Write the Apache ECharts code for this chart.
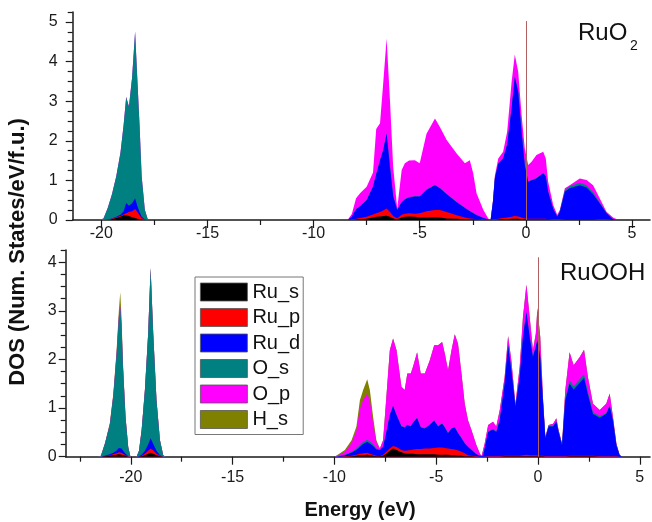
<!DOCTYPE html>
<html>
<head>
<meta charset="utf-8">
<script src="https://cdn.jsdelivr.net/npm/echarts@6/dist/echarts.min.js"></script>
<style>html,body{margin:0;padding:0;background:#fff;}#c{width:652px;height:522px;}</style>
</head>
<body>
<div id="c"></div>
<script>
// ---------- DATA ----------
const seriesNames = ['Ru_s', 'Ru_p', 'Ru_d', 'O_s', 'O_p', 'H_s'];
const xMajorTicks = [-20, -15, -10, -5, 0, 5];
const yTopTicks = [0, 1, 2, 3, 4, 5];
const yBotTicks = [0, 1, 2, 3, 4];

// RuO2 panel (partial DOS, each component on its own)
const topEnergy = [-20.1,-19.9,-19.7,-19.5,-19.3,-19.1,-18.95,-18.83,-18.7,-18.55,-18.41,-18.3,-18.2,-18.1,-17.95,-17.8,
  -8.4,-8.2,-8.0,-7.8,-7.5,-7.2,-7.05,-6.87,-6.72,-6.56,-6.4,-6.25,-6.06,-5.85,-5.7,-5.5,-5.23,-5.0,-4.68,-4.28,-4.05,-3.73,-3.26,-2.87,-2.64,-2.48,-2.32,-2.0,-1.77,-1.66,
  -1.55,-1.46,-1.3,-1.07,-0.88,-0.67,-0.52,-0.36,-0.2,-0.05,0.11,0.27,0.5,0.82,0.94,1.05,1.29,1.48,1.6,1.84,2.07,2.54,2.86,3.17,3.48,3.8,4.11,4.35];
const topRuS = [0,0,0,0.02,0.05,0.08,0.12,0.12,0.1,0.07,0.05,0.03,0.02,0.01,0,0,
  0,0,0.01,0.02,0.03,0.06,0.08,0.09,0.1,0.11,0.08,0.04,0.02,0.06,0.08,0.09,0.08,0.06,0.06,0.07,0.06,0.04,0.03,0.02,0.01,0.01,0.01,0,0,0,
  0,0.01,0.01,0.02,0.02,0.03,0.03,0.03,0.02,0.02,0.01,0.01,0.01,0.01,0.01,0.01,0,0,0,0.01,0.01,0.01,0.01,0.01,0,0,0,0];
const topRuP = [0,0,0.01,0.01,0.02,0.02,0.02,0.05,0.1,0.15,0.23,0.17,0.1,0.04,0.01,0,
  0,0.01,0.02,0.03,0.05,0.08,0.09,0.11,0.14,0.18,0.12,0.06,0.02,0.07,0.08,0.08,0.08,0.11,0.16,0.18,0.19,0.16,0.09,0.04,0.03,0.02,0.01,0.01,0,0,
  0.01,0.01,0.02,0.03,0.04,0.05,0.07,0.06,0.04,0.02,0.02,0.02,0.02,0.02,0.02,0.01,0.01,0.01,0.01,0.01,0.01,0.01,0.01,0.01,0.01,0.01,0,0];
const topRuD = [0,0,0,0.01,0.01,0.03,0.08,0.26,0.16,0.2,0.27,0.15,0.08,0.03,0,0,
  0,0.07,0.24,0.3,0.42,0.7,0.98,1.3,1.52,1.89,1.14,0.5,0.21,0.32,0.36,0.4,0.43,0.42,0.54,0.63,0.55,0.45,0.33,0.24,0.18,0.14,0.1,0.04,0.01,0,
  0.45,1.03,1.39,1.5,1.84,2.74,3.51,3.15,2.17,1.35,0.94,0.97,1.02,1.15,1.07,0.69,0.27,0.07,0.19,0.69,0.78,0.86,0.8,0.63,0.41,0.16,0.02,0];
const topOS = [0,0.04,0.29,0.61,1.02,1.57,2.18,2.67,2.5,3.18,4.2,3.15,2.2,1.02,0.24,0,
  0,0,0.01,0.01,0.01,0.01,0.01,0.01,0.01,0.01,0.01,0.01,0.01,0.01,0.01,0.01,0.01,0.01,0.01,0.01,0.01,0.01,0.01,0.01,0.01,0.01,0.01,0,0,0,
  0,0.01,0.01,0.01,0.01,0.01,0.01,0.01,0.01,0.01,0.01,0.01,0.01,0.01,0.01,0.01,0.01,0.01,0.02,0.05,0.05,0.06,0.06,0.05,0.03,0.01,0,0];
const topOP = [0,0,0,0,0,0,0.01,0.01,0.01,0.01,0.01,0,0,0,0,0,
  0,0.07,0.27,0.32,0.33,0.35,1.14,0.93,1.68,2.39,1.65,0.73,0.03,0.8,0.9,0.92,0.91,0.83,1.41,1.67,1.54,1.36,1.22,1.12,1.28,1.0,0.54,0.2,0.03,0,
  0.02,0.06,0.12,0.16,0.32,0.66,0.56,0.49,0.41,0.41,0.41,0.46,0.58,0.53,0.44,0.25,0.09,0.04,0.03,0.04,0.03,0.11,0.13,0.18,0.1,0.03,0.04,0];

// RuOOH panel
const botEnergy = [-21.6,-21.47,-21.27,-21.03,-20.86,-20.7,-20.59,-20.52,-20.46,-20.38,-20.26,-20.13,-20.02,
  -19.72,-19.6,-19.47,-19.31,-19.15,-19.03,-18.9,-18.74,-18.57,-18.41,-18.3,
  -10.0,-9.8,-9.49,-9.16,-8.92,-8.75,-8.59,-8.39,-8.26,-8.1,-7.94,-7.77,-7.61,-7.45,-7.28,-7.12,-6.95,-6.71,-6.55,-6.42,-6.25,-6.14,-5.94,-5.76,-5.56,-5.32,-5.1,-4.91,-4.71,-4.58,-4.42,-4.25,-4.09,-3.93,-3.76,-3.6,-3.44,-3.27,-3.03,-2.86,-2.78,
  -2.7,-2.62,-2.45,-2.21,-2.05,-1.88,-1.64,-1.47,-1.31,-1.11,-0.9,-0.74,-0.57,-0.41,-0.25,-0.11,-0.03,0.11,0.25,0.36,0.52,0.74,0.9,1.01,1.18,1.34,1.55,1.75,2.05,2.26,2.45,2.7,3.03,3.35,3.52,3.68,3.85,4.01,4.15];
const botRuS = [0,0,0.01,0.02,0.03,0.04,0.05,0.05,0.04,0.03,0.02,0,0,
  0,0,0.01,0.03,0.06,0.08,0.06,0.03,0.01,0,0,
  0,0,0,0.01,0.02,0.03,0.03,0.04,0.03,0.02,0.01,0.01,0.02,0.06,0.12,0.17,0.14,0.09,0.07,0.06,0.06,0.06,0.05,0.05,0.05,0.05,0.05,0.04,0.04,0.04,0.04,0.03,0.03,0.02,0.02,0.01,0.01,0.01,0,0,0,
  0,0,0,0,0,0,0.01,0.01,0.01,0.01,0.01,0.01,0.01,0.01,0.01,0.01,0.01,0.01,0.01,0,0,0,0,0,0,0,0.01,0.01,0.01,0.01,0.01,0.01,0,0,0,0,0,0,0];
const botRuP = [0,0,0,0.01,0.02,0.03,0.04,0.05,0.04,0.03,0.01,0.01,0,
  0,0,0.01,0.03,0.06,0.09,0.07,0.03,0.01,0,0,
  0,0,0.01,0.01,0.02,0.03,0.04,0.04,0.03,0.02,0.01,0,0.02,0.04,0.05,0.05,0.06,0.05,0.05,0.07,0.08,0.09,0.11,0.11,0.12,0.12,0.13,0.15,0.15,0.14,0.13,0.13,0.12,0.11,0.08,0.06,0.02,0.01,0.01,0,0,
  0,0.01,0.01,0.01,0.01,0.01,0.01,0.01,0.01,0.01,0.01,0.02,0.03,0.02,0.02,0.02,0.02,0.01,0.01,0.01,0.01,0.01,0.01,0.01,0.01,0.01,0.01,0.01,0.01,0.01,0.01,0.01,0.01,0.01,0.01,0.01,0.01,0,0];
const botRuD = [0,0,0.01,0.02,0.03,0.06,0.09,0.1,0.09,0.06,0.03,0,0,
  0,0.01,0.02,0.06,0.13,0.21,0.13,0.06,0.01,0,0,
  0,0.01,0.02,0.06,0.1,0.14,0.19,0.22,0.21,0.18,0.13,0.13,0.16,0.4,0.68,0.82,0.65,0.48,0.48,0.52,0.48,0.55,0.63,0.44,0.41,0.48,0.56,0.43,0.49,0.42,0.31,0.42,0.45,0.35,0.28,0.2,0.17,0.12,0.04,0.02,0,
  0.02,0.16,0.5,0.55,0.5,0.74,1.48,2.27,1.76,1.01,1.62,2.43,2.93,2.43,2.02,2.23,2.36,2.03,1.07,0.37,0.61,0.61,0.71,0.5,0.23,1.15,1.48,1.36,1.5,1.6,1.26,0.86,0.79,0.87,1.03,0.73,0.22,0.03,0];
const botOS = [0,0.02,0.25,0.61,1.18,1.97,2.67,2.85,2.53,1.68,0.74,0.19,0,
  0,0.11,0.51,1.25,2.28,3.5,2.27,1.04,0.31,0.03,0,
  0,0,0.01,0.02,0.03,0.04,0.04,0.05,0.04,0.03,0.02,0.01,0.01,0.01,0.01,0.01,0.01,0.01,0.01,0.01,0.01,0.01,0.01,0.01,0.01,0.01,0.01,0.01,0.01,0.01,0.01,0.01,0.01,0.01,0.01,0.01,0.01,0.01,0,0,0,
  0,0.01,0.01,0.01,0.01,0.01,0.01,0.01,0.01,0.01,0.01,0.01,0.01,0.01,0.01,0.01,0.01,0.01,0.01,0.01,0.01,0.01,0.01,0.01,0.01,0.04,0.07,0.07,0.07,0.07,0.06,0.04,0.03,0.02,0.02,0.02,0.01,0,0];
const botOP = [0,0,0,0.01,0.01,0.03,0.05,0.05,0.05,0.02,0.01,0,0,
  0,0,0,0,0,0,0,0,0,0,0,
  0,0.02,0.06,0.18,0.37,0.74,0.87,0.95,0.84,0.43,0.13,0.02,0.13,0.72,1.33,1.38,1.33,0.81,0.76,1.05,1.08,1.14,1.35,1.1,1.12,1.32,1.54,1.66,1.67,1.51,1.29,1.6,1.91,1.83,1.32,0.81,0.54,0.4,0.19,0.05,0,
  0.01,0.09,0.13,0.15,0.1,0.2,0.13,0.18,0.19,0.05,0.2,0.4,0.56,0.4,0.13,0.26,0.66,0.4,0.06,0.02,0.02,0.05,0.06,0.03,0.02,0.17,0.58,0.43,0.46,0.51,0.3,0.17,0.13,0.19,0.24,0.06,0.03,0,0];
const botHS = [0,0,0.01,0.03,0.03,0.06,0.1,0.28,0.12,0.03,0.01,0,0,
  0,0,0,0,0,0,0,0,0,0,0,
  0,0.02,0.04,0.06,0.08,0.18,0.2,0.29,0.22,0.14,0.04,0,0,0,0,0,0,0,0,0,0,0,0,0,0,0,0,0,0,0,0,0,0,0,0,0,0,0,0,0,0,
  0,0,0,0,0,0,0,0,0,0,0,0,0,0,0,0,0,0,0,0,0,0,0,0,0,0,0,0,0,0,0,0,0,0,0,0,0,0,0];

const colors = {Ru_s:'#000000', Ru_p:'#ff0000', Ru_d:'#0000ff', O_s:'#008080', O_p:'#ff00ff', H_s:'#808000'};

// ---------- CHART ----------
const FONT = 'Liberation Sans, Arial, sans-serif';
const chart = echarts.init(document.getElementById('c'), null, {renderer: 'canvas'});

// stacked (cumulative) curves: each component is drawn as the filled area of the running sum,
// upper components first so lower ones paint over them
function stackedSeries(names, comps, energy, axisIdx, fermiTop) {
  const cum = [];
  let run = energy.map(() => 0);
  comps.forEach(c => { run = run.map((v, i) => +(v + c[i]).toFixed(4)); cum.push(run); });
  const out = [];
  for (let k = names.length - 1; k >= 0; k--) {
    const s = {
      name: names[k], type: 'line', xAxisIndex: axisIdx, yAxisIndex: axisIdx,
      data: energy.map((e, i) => [e, cum[k][i]]),
      showSymbol: false, symbol: 'none', smooth: false,
      lineStyle: {width: 1, opacity: 0, color: colors[names[k]]},
      itemStyle: {color: colors[names[k]]},
      areaStyle: {color: colors[names[k]], opacity: 1, origin: 'start'},
      emphasis: {disabled: true}, silent: true, z: 2
    };
    if (k === 0) {
      s.markLine = {silent: true, symbol: ['none', 'none'], label: {show: false}, z: 10,
        lineStyle: {color: '#b06060', width: 1, type: 'solid', opacity: 1},
        data: [[{coord: [0, 0]}, {coord: [0, fermiTop]}]]};
    }
    out.push(s);
  }
  return out;
}

const minorX1 = [-17.5, -12.5, -7.5, -2.5, 2.5];
const minorX2 = [-22.5, -17.5, -12.5, -7.5, -2.5, 2.5];
function quarterTicks(maxV) { const r = []; for (let v = 0.25; v <= maxV + 1e-9; v += 0.25) { if (Math.abs(v - Math.round(v)) > 1e-6) r.push(+v.toFixed(2)); } return r; }

const axisLineStyle = {color: '#1a1a1a', width: 1.5};
const labelStyle = {color: '#1a1a1a', fontSize: 16, fontFamily: FONT};
const tickLine = {color: '#1a1a1a', width: 1.2};

function xMain(grid, min, max, margin) {
  return {type: 'value', gridIndex: grid, position: 'bottom', min, max, splitLine: {show: false},
    axisLine: {show: true, onZero: false, lineStyle: axisLineStyle},
    axisTick: {show: true, inside: false, length: 8, customValues: xMajorTicks, lineStyle: tickLine},
    axisLabel: {show: true, customValues: xMajorTicks, margin, ...labelStyle}};
}
function xMinor(grid, min, max, vals) {
  return {type: 'value', gridIndex: grid, position: 'bottom', min, max, splitLine: {show: false},
    axisLine: {show: false, onZero: false},
    axisTick: {show: true, inside: false, length: 5, customValues: vals, lineStyle: tickLine},
    axisLabel: {show: false}};
}
function yMain(grid, max, ticks, margin) {
  return {type: 'value', gridIndex: grid, position: 'left', min: 0, max, splitLine: {show: false},
    axisLine: {show: true, onZero: false, lineStyle: axisLineStyle},
    axisTick: {show: true, inside: false, length: 7, customValues: ticks, lineStyle: tickLine},
    axisLabel: {show: true, customValues: ticks, margin, ...labelStyle}};
}
function yMinor(grid, max) {
  return {type: 'value', gridIndex: grid, position: 'left', min: 0, max, splitLine: {show: false},
    axisLine: {show: false, onZero: false},
    axisTick: {show: true, inside: false, length: 5, customValues: quarterTicks(max), lineStyle: tickLine},
    axisLabel: {show: false}};
}

const series = [].concat(
  stackedSeries(['Ru_s', 'Ru_p', 'Ru_d', 'O_s', 'O_p'], [topRuS, topRuP, topRuD, topOS, topOP], topEnergy, 0, 5.02),
  stackedSeries(['Ru_s', 'Ru_p', 'Ru_d', 'O_s', 'O_p', 'H_s'], [botRuS, botRuP, botRuD, botOS, botOP, botHS], botEnergy, 2, 4.1)
);

chart.setOption({
  animation: false,
  backgroundColor: '#ffffff',
  grid: [
    {left: 72.7, top: 12, width: 577.3, height: 208, containLabel: false},
    {left: 65.7, top: 250, width: 584.3, height: 206.7, containLabel: false}
  ],
  xAxis: [
    xMain(0, -21.35, 5.85, 6),
    xMinor(0, -21.35, 5.85, minorX1),
    xMain(1, -23.2, 5.5, 13),
    xMinor(1, -23.2, 5.5, minorX2)
  ],
  yAxis: [
    yMain(0, 5.25, yTopTicks, 15),
    yMinor(0, 5.25),
    yMain(1, 4.25, yBotTicks, 9),
    yMinor(1, 4.25)
  ],
  legend: {
    data: seriesNames, orient: 'vertical', left: 195, top: 277,
    icon: 'rect', itemWidth: 47, itemHeight: 18, itemGap: 5.5,
    padding: [5, 3, 5, 5], backgroundColor: '#ffffff', borderColor: '#777777', borderWidth: 1,
    itemStyle: {borderColor: '#555555', borderWidth: 0.8},
    textStyle: {color: '#111111', fontSize: 20, fontFamily: FONT},
    selectedMode: false
  },
  graphic: [
    {type: 'text', left: 578, top: 21, style: {text: 'RuO', fontSize: 24, fontFamily: FONT, fill: '#111'}},
    {type: 'text', left: 630, top: 39, style: {text: '2', fontSize: 14, fontFamily: FONT, fill: '#111'}},
    {type: 'text', left: 560, top: 261, style: {text: 'RuOOH', fontSize: 24, fontFamily: FONT, fill: '#111'}},
    {type: 'text', x: 18, y: 252, rotation: Math.PI / 2,
      style: {text: 'DOS (Num. States/eV/f.u.)', fontSize: 22, fontWeight: 'bold', fontFamily: FONT, fill: '#111', align: 'center', verticalAlign: 'middle'}},
    {type: 'text', x: 360, y: 510,
      style: {text: 'Energy (eV)', fontSize: 20, fontWeight: 'bold', fontFamily: FONT, fill: '#111', align: 'center', verticalAlign: 'middle'}}
  ],
  series
});
</script>
</body>
</html>
